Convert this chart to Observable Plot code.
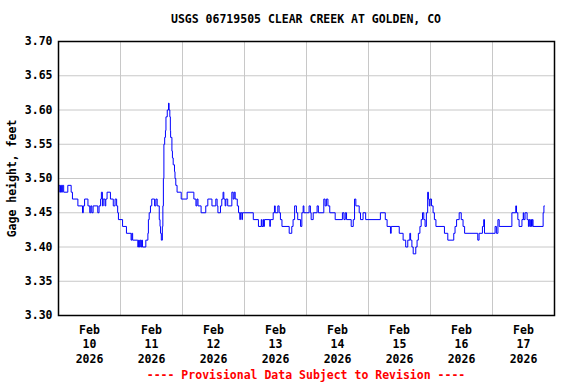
<!DOCTYPE html>
<html>
<head>
<meta charset="utf-8">
<script src="https://cdn.jsdelivr.net/npm/d3@7"></script>
<script src="https://cdn.jsdelivr.net/npm/@observablehq/plot@0.6"></script>
<style>
  html, body { margin: 0; padding: 0; background: #fff; }
  body { width: 576px; height: 384px; overflow: hidden; font-family: "DejaVu Sans Mono", monospace; font-weight: bold; font-size: 11.5px; }
  #title { height: 22px; padding-top: 8px; line-height: 22px; padding-left: 36px; text-align: center; color: #000; white-space: nowrap; }
  #chart svg { display: block; }
  #footer { height: 12px; line-height: 10px; padding-left: 36px; text-align: center; color: #ff0000; white-space: nowrap; }
</style>
</head>
<body>
<div id="title">USGS 06719505 CLEAR CREEK AT GOLDEN, CO</div>
<div id="chart"></div>
<div id="footer">---- Provisional Data Subject to Revision ----</div>
<script>
// Data: hours since 2026-02-10 00:00 and gage height (feet)
const hourOffsets = [
  0.0, 0.5, 0.8, 1.2, 1.5, 2.0, 3.6, 4.9, 5.4, 7.5, 9.3, 9.6, 10.1, 11.4, 12.1, 12.5, 12.9, 13.4,
  15.2, 15.7, 16.3, 16.6, 17.0, 17.3, 18.0, 18.3, 18.8, 20.1, 21.2, 21.9, 22.5, 22.9, 23.2,
  24.8, 26.3, 28.1, 28.4, 28.7, 30.7, 31.0, 31.3, 31.6, 31.9, 32.2, 32.5, 33.8, 34.6, 34.8, 35.1,
  35.6, 36.1, 37.2, 37.7, 38.2, 39.0, 39.3, 39.5, 39.8, 40.2, 40.4, 40.6, 40.8, 41.1, 41.4, 41.6,
  42.1, 42.6, 42.8, 43.1, 43.3, 43.4, 43.9, 44.1, 44.4, 44.9, 45.1, 45.4, 45.9, 47.5,
  49.8, 52.4, 53.2, 53.6, 54.0, 55.2, 57.0, 57.8, 59.4, 60.9, 61.4, 61.7, 62.7, 63.2, 63.7, 64.0,
  64.5, 64.8, 65.5, 67.1, 67.6, 68.0, 68.4, 69.2, 69.7, 70.2, 70.4, 71.0, 71.2,
  75.4, 77.4, 78.5, 78.7, 79.2, 79.4, 79.7, 81.8, 82.0, 83.1, 83.6, 83.9, 84.9, 85.4, 85.9, 86.5,
  89.3, 90.3, 90.8, 91.4, 92.1, 92.6, 93.7, 94.2, 94.7, 95.0,
  97.0, 97.5, 97.8, 98.6, 100.1, 100.6, 102.7, 103.2, 103.7, 104.3, 105.0, 107.1, 109.9, 110.5,
  111.0, 111.5, 113.3, 114.1, 114.6, 115.1, 116.4, 116.9, 117.9, 118.9,
  124.6, 126.5, 127.2, 128.5, 128.8, 131.9, 133.4, 134.4, 135.2, 136.0, 136.3, 136.8, 137.3,
  138.3, 138.8, 139.3, 139.9, 140.4, 140.9, 141.4, 141.9, 142.4, 142.9, 143.2, 143.5, 143.8,
  144.4, 145.0, 145.5, 146.1, 149.4, 150.7, 153.0, 153.5, 154.1, 155.1, 155.9, 156.6, 157.2,
  162.3, 162.8, 164.1, 164.6, 164.9,
  169.0, 169.5, 170.1, 170.6, 175.5, 177.0, 177.3, 177.8, 178.3, 179.4, 179.9, 180.1, 180.6,
  181.4, 181.9, 182.2, 182.5, 182.8, 183.1, 183.4, 183.7, 187.6, 187.9, 188.1
];
const gageFeet = [
  3.49, 3.48, 3.49, 3.48, 3.49, 3.48, 3.49, 3.48, 3.47, 3.46, 3.45, 3.46, 3.47, 3.46, 3.45, 3.46, 3.45, 3.46,
  3.45, 3.46, 3.47, 3.48, 3.46, 3.47, 3.46, 3.47, 3.48, 3.47, 3.46, 3.47, 3.46, 3.45, 3.44,
  3.43, 3.42, 3.41, 3.42, 3.41, 3.40, 3.41, 3.40, 3.41, 3.40, 3.41, 3.40, 3.41, 3.42, 3.44, 3.45,
  3.46, 3.47, 3.46, 3.47, 3.46, 3.44, 3.43, 3.42, 3.41, 3.43, 3.46, 3.50, 3.55, 3.56, 3.57, 3.59,
  3.60, 3.61, 3.60, 3.59, 3.57, 3.56, 3.54, 3.53, 3.52, 3.51, 3.50, 3.49, 3.48, 3.47,
  3.48, 3.47, 3.46, 3.47, 3.46, 3.45, 3.46, 3.47, 3.46, 3.47, 3.46, 3.45, 3.46, 3.47, 3.48, 3.47,
  3.46, 3.47, 3.46, 3.48, 3.47, 3.48, 3.47, 3.46, 3.45, 3.44, 3.45, 3.44, 3.45,
  3.44, 3.43, 3.44, 3.43, 3.44, 3.43, 3.44, 3.43, 3.44, 3.45, 3.46, 3.45, 3.46, 3.45, 3.44, 3.43,
  3.42, 3.43, 3.44, 3.46, 3.45, 3.44, 3.43, 3.45, 3.46, 3.45,
  3.46, 3.45, 3.44, 3.45, 3.46, 3.45, 3.47, 3.46, 3.47, 3.46, 3.45, 3.44, 3.45, 3.44,
  3.45, 3.44, 3.43, 3.44, 3.47, 3.46, 3.45, 3.44, 3.45, 3.44,
  3.45, 3.44, 3.43, 3.42, 3.43, 3.42, 3.41, 3.40, 3.41, 3.42, 3.41, 3.40, 3.39,
  3.40, 3.41, 3.42, 3.43, 3.44, 3.45, 3.44, 3.43, 3.45, 3.48, 3.47, 3.46, 3.47,
  3.46, 3.45, 3.44, 3.43, 3.42, 3.41, 3.42, 3.43, 3.44, 3.45, 3.44, 3.43, 3.42,
  3.41, 3.42, 3.43, 3.44, 3.42,
  3.43, 3.42, 3.44, 3.43, 3.45, 3.46, 3.45, 3.44, 3.43, 3.44, 3.45, 3.44, 3.45,
  3.44, 3.43, 3.44, 3.43, 3.44, 3.43, 3.44, 3.43, 3.45, 3.46, 3.46
];
const yTicks = [3.30, 3.35, 3.40, 3.45, 3.50, 3.55, 3.60, 3.65, 3.70];
const monthLabel = "Feb";
const yearLabel = "2026";
const dayLabels = ["10", "11", "12", "13", "14", "15", "16", "17"];

const start = Date.UTC(2026, 1, 10);
const HOUR = 3600 * 1000;
const data = hourOffsets.map((h, i) => ({ t: new Date(start + h * HOUR), v: gageFeet[i] }));
const dayStarts = d3.range(dayLabels.length + 1).map(i => new Date(start + i * 24 * HOUR));
const noonTicks = dayLabels.map((d, i) => new Date(start + (i * 24 + 12) * HOUR));
const labelByTime = new Map(noonTicks.map((t, i) => [+t, `${monthLabel}\n${dayLabels[i]}\n${yearLabel}`]));

const chart = Plot.plot({
  width: 576,
  height: 340,
  marginTop: 11,
  marginBottom: 55,
  marginLeft: 58,
  marginRight: 22,
  style: { fontFamily: "'DejaVu Sans Mono', monospace", fontSize: "11.5px", fontWeight: "bold", color: "#000", background: "#fff" },
  x: { type: "utc", domain: [dayStarts[0], dayStarts[dayStarts.length - 1]] },
  y: { domain: [3.30, 3.70] },
  marks: [
    Plot.gridX(dayStarts.slice(1, -1), { stroke: "#c8c8c8", strokeOpacity: 1 }),
    Plot.gridY(yTicks.slice(1, -1), { stroke: "#c8c8c8", strokeOpacity: 1 }),
    Plot.line(data, { x: "t", y: "v", stroke: "#0000ff", strokeWidth: 1, curve: "step-after" }),
    Plot.frame({ stroke: "#000", strokeWidth: 1.5 }),
    Plot.axisX(noonTicks, { tickSize: 0, tickPadding: 9, tickFormat: d => labelByTime.get(+d), lineHeight: 1.22, label: null }),
    Plot.axisY(yTicks, { tickSize: 0, tickPadding: 6, tickFormat: d3.format(".2f"), label: "Gage height, feet", labelAnchor: "center", labelOffset: 51, labelArrow: "none" })
  ]
});
document.getElementById("chart").appendChild(chart);
</script>
</body>
</html>
